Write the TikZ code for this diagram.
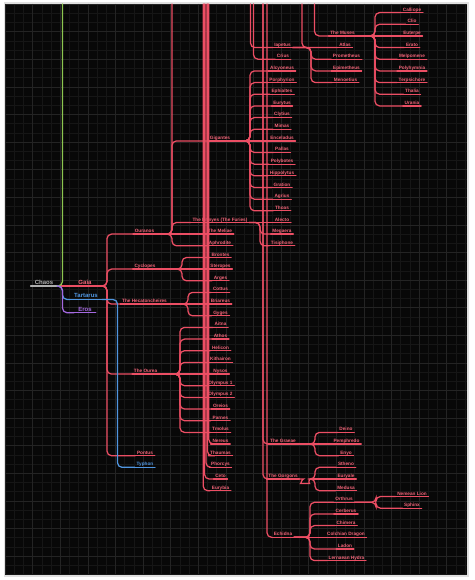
\documentclass[tikz,border=0pt]{standalone}
\usepackage{fontspec}
\setmainfont{Liberation Sans}
\definecolor{redl}{RGB}{236,78,100}
\definecolor{redt}{RGB}{242,100,120}
\definecolor{grn}{RGB}{140,198,80}
\definecolor{blu}{RGB}{80,150,225}
\definecolor{pur}{RGB}{165,105,225}
\definecolor{chg}{RGB}{175,175,175}
\definecolor{gmin}{RGB}{22,22,22}
\definecolor{gmaj}{RGB}{36,36,36}
\definecolor{panel}{RGB}{8,8,8}
\tikzset{
 lbl/.style={font=\fontsize{4.7}{5}\selectfont\bfseries, text=redt, inner xsep=1.6pt, inner ysep=0.4pt, text height=3.4pt, text depth=0.9pt, anchor=south},
 rootlbl/.style={lbl, font=\fontsize{6}{7}\selectfont\bfseries, text height=4.4pt, text depth=1pt, inner xsep=4pt},
 conn/.style={draw=redl, line width=1.25pt, rounded corners=4.5pt, line cap=round},
 bconn/.style={conn, draw=blu},
 pconn/.style={conn, draw=pur},
 gconn/.style={conn, draw=grn},
 gridmin/.style={draw=gmin, line width=0.4pt},
 gridmaj/.style={draw=gmaj, line width=0.45pt},
}
\newcommand{\mn}[4]{\node[lbl] (#1) at (#2,#3) {#4};}
\newcommand{\br}[3]{\draw[conn] (#1.south east) -- (#2) |- (#3.south west);}
\newcommand{\st}[2]{\draw[conn] (#1.south east) -- (#2.south west);}
\newcommand{\tp}[2]{\draw[conn] (#1) |- (#2.south west);}
\begin{document}
\begin{tikzpicture}[x=1pt,y=-1pt]
\useasboundingbox (0,0) rectangle (474,580);
\fill[white] (0,0) rectangle (474,580);
\fill[black!12] (3.5,2.5) rectangle (469,577);
\fill[panel] (5,4) rectangle (467,574);
\begin{scope}
\clip (5,4) rectangle (467,574);
\foreach \i in {0,...,51} {\draw[gridmin] ({5+9.2*\i},4) -- ({5+9.2*\i},574);}
\foreach \i in {0,...,63} {\draw[gridmin] (5,{4+9.2*\i}) -- (467,{4+9.2*\i});}
\foreach \i in {0,...,17} {\draw[gridmaj] ({5+27.6*\i},4) -- ({5+27.6*\i},574);}
\foreach \i in {0,...,21} {\draw[gridmaj] (5,{4+27.6*\i}) -- (467,{4+27.6*\i});}
\end{scope}

% ---------- coordinates ----------
\coordinate (jChaos) at (62.5,286);
\coordinate (jGaia) at (107,286);
\coordinate (jTar) at (117.5,299.5);
\coordinate (jOur) at (172,234.1);
\coordinate (jGig) at (250,140.9);
\coordinate (jEri) at (260,222.5);
\coordinate (jCyc) at (182,269.1);
\coordinate (jHec) at (188,304.1);
\coordinate (jOurea) at (180,374.1);
\coordinate (jIap) at (311,47.6);
\coordinate (jMus) at (375,35.9);
\coordinate (jGr) at (315,444);
\coordinate (goIn) at (311,479);
\coordinate (jGo) at (315,479);
\coordinate (jEch) at (310,537.3);
\coordinate (jOrth) at (376,502.3);
\coordinate (topG) at (62.5,4);
\coordinate (topOur) at (172,4);
\coordinate (topNa) at (208.8,4);
\coordinate (topNb) at (207.4,4);
\coordinate (topNc) at (206,4);
\coordinate (topNd) at (204.6,4);
\coordinate (topNe) at (203.2,4);
\coordinate (topI) at (250.5,4);
\coordinate (topC) at (253.5,4);
\coordinate (topAt) at (302,4);
\coordinate (topM) at (314.5,4);
\coordinate (topGr) at (263,4);
\coordinate (topE) at (267,4);

% ---------- roots ----------
\node[rootlbl,text=chg] (chaos) at (44,286) {Chaos};
\node[rootlbl] (gaia) at (85,286) {Gaia};
\node[rootlbl,text=blu] (tartarus) at (86,299.5) {Tartarus};
\node[rootlbl,text=pur] (eros) at (85,312.7) {Eros};
\node[lbl,text=blu] (typhon) at (145,467.3) {Typhon};

% ---------- Gaia branch ----------
\mn{ouranos}{144.5}{234.1}{Ouranos}
\mn{cyclopes}{145}{269.1}{Cyclopes}
\mn{hecat}{144.5}{304.1}{The Hecatoncheires}
\mn{ourea}{145.5}{374.1}{The Ourea}
\mn{pontus}{145}{455.7}{Pontus}
\mn{gigantes}{220}{140.9}{Gigantes}
\mn{erinyes}{220}{222.5}{The Erinyes (The Furies)}
\mn{meliae}{220}{234.1}{The Meliae}
\mn{aphrodite}{220}{245.8}{Aphrodite}
\mn{alcyoneus}{282}{70.9}{Alcyoneus}
\mn{porphyrion}{282}{82.6}{Porphyrion}
\mn{ephialtes}{282}{94.2}{Ephialtes}
\mn{eurytus}{282}{105.9}{Eurytus}
\mn{clytius}{282}{117.5}{Clytius}
\mn{mimas}{282}{129.2}{Mimas}
\mn{enceladus}{282}{140.9}{Enceladus}
\mn{pallas}{282}{152.5}{Pallas}
\mn{polybotes}{282}{164.2}{Polybotes}
\mn{hippolytus}{282}{175.8}{Hippolytus}
\mn{gration}{282}{187.5}{Gration}
\mn{agrius}{282}{199.2}{Agrius}
\mn{thoas}{282}{210.8}{Thoas}
\mn{alecto}{282}{222.5}{Alecto}
\mn{megaera}{282}{234.1}{Megaera}
\mn{tisiphone}{282}{245.8}{Tisiphone}
\mn{brontes}{220.5}{257.5}{Brontes}
\mn{steropes}{220.5}{269.1}{Steropes}
\mn{arges}{220.5}{280.8}{Arges}
\mn{cottus}{220.5}{292.4}{Cottus}
\mn{briareus}{220.5}{304.1}{Briareus}
\mn{gyges}{220.5}{315.8}{Gyges}
\mn{aitna}{220.5}{327.4}{Aitna}
\mn{athos}{220.5}{339.1}{Athos}
\mn{helicon}{220.5}{350.7}{Helicon}
\mn{kithairon}{220.5}{362.4}{Kithairon}
\mn{nysos}{220.5}{374.1}{Nysos}
\mn{olympusa}{220.5}{385.7}{Olympus 1}
\mn{olympusb}{220.5}{397.4}{Olympus 2}
\mn{oreios}{220.5}{409}{Oreios}
\mn{parnes}{220.5}{420.7}{Parnes}
\mn{tmolus}{220.5}{432.4}{Tmolus}
\mn{nereus}{220.5}{444}{Nereus}
\mn{thaumas}{220.5}{455.7}{Thaumas}
\mn{phorcys}{220.5}{467.3}{Phorcys}
\mn{ceto}{220.5}{479}{Ceto}
\mn{eurybia}{220.5}{490.7}{Eurybia}

% ---------- top right ----------
\mn{iapetus}{282.5}{47.6}{Iapetus}
\mn{crius}{283}{59.2}{Crius}
\mn{atlas}{345}{47.6}{Atlas}
\mn{prometheus}{346.5}{59.2}{Prometheus}
\mn{epimetheus}{346.5}{70.9}{Epimetheus}
\mn{menoetius}{345.5}{82.6}{Menoetius}
\mn{muses}{342.5}{35.9}{The Muses}
\mn{calliope}{412}{12.6}{Calliope}
\mn{clio}{412}{24.3}{Clio}
\mn{euterpe}{412}{35.9}{Euterpe}
\mn{erato}{412}{47.6}{Erato}
\mn{melpomene}{412}{59.2}{Melpomene}
\mn{polyhymnia}{412}{70.9}{Polyhymnia}
\mn{terpsichore}{412}{82.6}{Terpsichore}
\mn{thalia}{412}{94.2}{Thalia}
\mn{urania}{412}{105.9}{Urania}

% ---------- bottom right ----------
\mn{graeae}{283}{444}{The Graeae}
\mn{gorgons}{283}{479}{The Gorgons}
\mn{echidna}{283}{537.3}{Echidna}
\mn{deino}{346}{432.4}{Deino}
\mn{pemphredo}{346.5}{444}{Pemphredo}
\mn{enyo}{346}{455.7}{Enyo}
\mn{stheno}{346}{467.3}{Stheno}
\mn{euryale}{346}{479}{Euryale}
\mn{medusa}{346}{490.7}{Medusa}
\mn{orthrus}{344}{502.3}{Orthrus}
\mn{cerberus}{346}{514}{Cerberus}
\mn{chimera}{346}{525.6}{Chimera}
\mn{colchian}{346}{537.3}{Colchian Dragon}
\mn{ladon}{345}{549}{Ladon}
\mn{hydra}{346.5}{560.6}{Lernaean Hydra}
\mn{nemean}{412}{496.5}{Nemean Lion}
\mn{sphinx}{412}{508.2}{Sphinx}

% ---------- underlines ----------
\foreach \n in {gaia,ouranos,cyclopes,hecat,ourea,pontus,gigantes,erinyes,meliae,aphrodite,
 alcyoneus,porphyrion,ephialtes,eurytus,clytius,mimas,enceladus,pallas,polybotes,hippolytus,gration,agrius,thoas,
 alecto,megaera,tisiphone,brontes,steropes,arges,cottus,briareus,gyges,
 aitna,athos,helicon,kithairon,nysos,olympusa,olympusb,oreios,parnes,tmolus,
 nereus,thaumas,phorcys,ceto,eurybia,
 iapetus,crius,atlas,prometheus,epimetheus,menoetius,muses,
 calliope,clio,euterpe,erato,melpomene,polyhymnia,terpsichore,thalia,urania,
 graeae,gorgons,echidna,deino,pemphredo,enyo,stheno,euryale,medusa,
 orthrus,cerberus,chimera,colchian,ladon,hydra,nemean,sphinx}
 {\draw[conn] (\n.south west) -- (\n.south east);}

% ---------- red connectors ----------
\st{chaos}{gaia}
\br{gaia}{jGaia}{ouranos}
\br{gaia}{jGaia}{cyclopes}
\br{gaia}{jGaia}{hecat}
\br{gaia}{jGaia}{ourea}
\br{gaia}{jGaia}{pontus}

\draw[conn] (ouranos.south east) -- (jOur) -- (topOur);
\br{ouranos}{jOur}{gigantes}
\br{ouranos}{jOur}{erinyes}
\st{ouranos}{meliae}
\br{ouranos}{jOur}{aphrodite}

\foreach \c in {alcyoneus,porphyrion,ephialtes,eurytus,clytius,mimas,pallas,polybotes,hippolytus,gration,agrius,thoas}
 {\br{gigantes}{jGig}{\c}}
\st{gigantes}{enceladus}

\st{erinyes}{alecto}
\br{erinyes}{jEri}{megaera}
\br{erinyes}{jEri}{tisiphone}

\br{cyclopes}{jCyc}{brontes}
\st{cyclopes}{steropes}
\br{cyclopes}{jCyc}{arges}

\br{hecat}{jHec}{cottus}
\st{hecat}{briareus}
\br{hecat}{jHec}{gyges}

\foreach \c in {aitna,athos,helicon,kithairon,olympusa,olympusb,oreios,parnes,tmolus}
 {\br{ourea}{jOurea}{\c}}
\st{ourea}{nysos}

\tp{topNa}{nereus}
\tp{topNb}{thaumas}
\tp{topNc}{phorcys}
\tp{topNd}{ceto}
\tp{topNe}{eurybia}

\tp{topI}{iapetus}
\tp{topC}{crius}
\tp{topAt}{atlas}
\br{iapetus}{jIap}{prometheus}
\br{iapetus}{jIap}{epimetheus}
\br{iapetus}{jIap}{menoetius}

\tp{topM}{muses}
\foreach \c in {calliope,clio,erato,melpomene,polyhymnia,terpsichore,thalia,urania}
 {\br{muses}{jMus}{\c}}
\st{muses}{euterpe}

\tp{topGr}{graeae}
\tp{topGr}{gorgons}
\tp{topE}{echidna}

\br{graeae}{jGr}{deino}
\st{graeae}{pemphredo}
\br{graeae}{jGr}{enyo}

\draw[conn] (gorgons.south east) -- (299,479) .. controls (302,479) and (301,483.5) .. (305,483.5) .. controls (309,483.5) and (308,479) .. (goIn);
\draw[conn] (goIn) -- (jGo) |- (stheno.south west);
\draw[conn] (goIn) -- (euryale.south west);
\draw[conn] (goIn) -- (jGo) |- (medusa.south west);

\foreach \c in {orthrus,cerberus,chimera,ladon,hydra}
 {\br{echidna}{jEch}{\c}}
\st{echidna}{colchian}
\br{orthrus}{jOrth}{nemean}
\br{orthrus}{jOrth}{sphinx}

% ---------- coloured root connectors ----------
\draw[conn,draw=chg] (chaos.south west) -- (chaos.south east);
\draw[gconn] (chaos.south east) -| (topG);
\draw[bconn] (chaos.south east) -- (jChaos) |- (tartarus.south west);
\draw[bconn] (tartarus.south west) -- (tartarus.south east);
\draw[bconn] (tartarus.south east) -- (jTar) |- (typhon.south west);
\draw[bconn] (typhon.south west) -- (typhon.south east);
\draw[pconn] (chaos.south east) -- (jChaos) |- (eros.south west);
\draw[pconn] (eros.south west) -- (eros.south east);
\end{tikzpicture}
\end{document}
